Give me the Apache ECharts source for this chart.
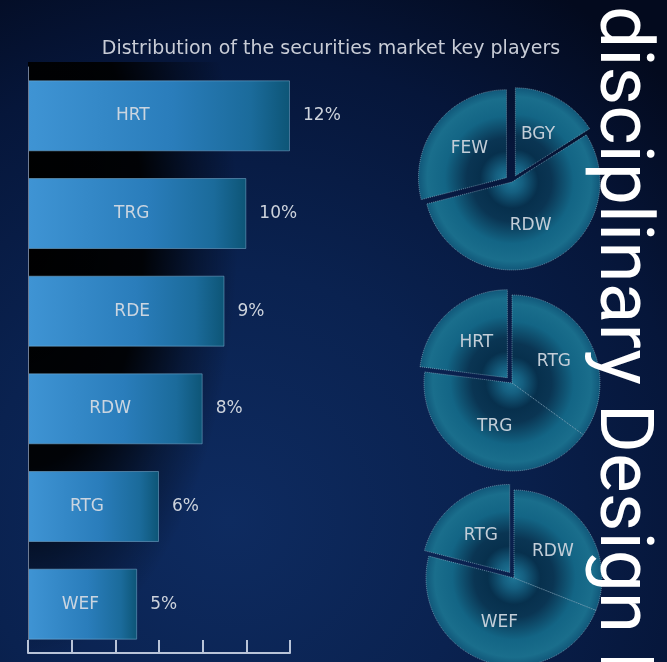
<!DOCTYPE html>
<html>
<head>
<meta charset="utf-8">
<title>Distribution of the securities market key players</title>
<script src="https://cdn.jsdelivr.net/npm/echarts@6/dist/echarts.min.js"></script>
<style>
  html, body { margin: 0; padding: 0; background: #050f26; }
  #chart { width: 667px; height: 662px; }
</style>
</head>
<body>
<div id="chart"></div>
<script>
// Market share of the key players (horizontal bars)
const categories = ['HRT', 'TRG', 'RDE', 'RDW', 'RTG', 'WEF'];
const shares = [12, 10, 9, 8, 6, 5];
const shareAxisMax = 12;
const shareAxisStep = 2;

// Segment splits of the three pies (clockwise from 12 o'clock)
const pieTopNames = ['BGY', 'RDW', 'FEW'];
const pieTopValues = [16, 55, 29];
const pieTopPulled = ['BGY', 'FEW'];

const pieMidNames = ['RTG', 'TRG', 'HRT'];
const pieMidValues = [35, 42, 23];
const pieMidPulled = ['HRT'];

const pieLowNames = ['RDW', 'WEF', 'RTG'];
const pieLowValues = [31, 48, 21];
const pieLowPulled = ['RTG'];

const titleText = 'Distribution of the securities market key players';
const sideText = 'disciplinary Design Method';

// Layout: where each player name sits along its bar (fraction of bar length)
const nameAnchor = [0.40, 0.475, 0.53, 0.47, 0.45, 0.48];

const labelFont = '"DejaVu Sans", sans-serif';
const PIE_R = 88;

function pieGlow(cx, cy) {
  return {
    type: 'radial', x: cx, y: cy, r: PIE_R, global: true,
    colorStops: [
      { offset: 0, color: '#1e7596' },
      { offset: 0.12, color: '#155f80' },
      { offset: 0.3, color: '#07304d' },
      { offset: 0.45, color: '#0a3553' },
      { offset: 0.7, color: '#136585' },
      { offset: 0.9, color: '#1a6e8c' },
      { offset: 1, color: '#11587a' }
    ]
  };
}

function pieSeries(names, values, pulled, cx, cy) {
  return {
    type: 'pie',
    center: [cx, cy],
    radius: [0, PIE_R],
    startAngle: 90,
    clockwise: true,
    selectedMode: 'multiple',
    selectedOffset: 7,
    animation: false,
    silent: true,
    emphasis: { disabled: true },
    labelLine: { show: false },
    label: {
      show: true,
      position: 'inside',
      formatter: '{b}',
      color: '#c3ced8',
      fontSize: 17,
      fontFamily: labelFont
    },
    itemStyle: {
      color: pieGlow(cx, cy),
      borderColor: 'rgba(165,200,215,0.55)',
      borderWidth: 1,
      borderType: 'dotted'
    },
    data: names.map((n, i) => ({
      name: n,
      value: values[i],
      selected: pulled.indexOf(n) >= 0
    }))
  };
}

const barFill = {
  type: 'linear', x: 0, y: 0, x2: 1, y2: 0,
  colorStops: [
    { offset: 0, color: '#3f94d4' },
    { offset: 0.55, color: '#2a7dbb' },
    { offset: 0.85, color: '#1b6b9b' },
    { offset: 1, color: '#0d5576' }
  ]
};

const chart = echarts.init(document.getElementById('chart'), null, { renderer: 'canvas' });

chart.setOption({
  animation: false,
  backgroundColor: '#050f26',
  title: {
    text: titleText,
    left: 326,
    top: 44,
    textAlign: 'center',
    textVerticalAlign: 'middle',
    textStyle: {
      color: '#c8ccd6',
      fontSize: 19,
      fontWeight: 'normal',
      fontFamily: labelFont
    }
  },
  graphic: [
    {
      // page backdrop
      type: 'rect',
      z: 0,
      silent: true,
      shape: { x: 0, y: 0, width: 667, height: 662 },
      style: {
        fill: {
          type: 'radial', x: 230, y: 520, r: 620, global: true,
          colorStops: [
            { offset: 0, color: '#0e2b60' },
            { offset: 0.4, color: '#0a2250' },
            { offset: 0.75, color: '#06163a' },
            { offset: 1, color: '#030a1e' }
          ]
        }
      }
    },
    {
      // dark shade behind the bars, next to the value axis
      type: 'rect',
      z: 1,
      silent: true,
      x: 28,
      y: -200,
      scaleX: 210 / 430,
      shape: { x: 0, y: 262, width: 430, height: 600 },
      style: {
        fill: {
          type: 'radial', x: 0, y: 430, r: 430, global: true,
          colorStops: [
            { offset: 0, color: 'rgba(0,0,0,1)' },
            { offset: 0.55, color: 'rgba(0,0,0,0.92)' },
            { offset: 0.8, color: 'rgba(0,0,0,0.35)' },
            { offset: 1, color: 'rgba(0,0,0,0)' }
          ]
        }
      }
    },
    {
      type: 'text',
      z: 100,
      silent: true,
      x: 620,
      y: 6,
      rotation: -Math.PI / 2,
      style: {
        text: sideText,
        fill: '#ffffff',
        fontSize: 75,
        fontFamily: 'Roboto, sans-serif',
        fontWeight: 'normal',
        align: 'left',
        verticalAlign: 'middle'
      }
    }
  ],
  grid: { left: 28, right: 377, top: 67, bottom: 9, containLabel: false },
  xAxis: {
    type: 'value',
    min: 0,
    max: shareAxisMax,
    interval: shareAxisStep,
    z: 10,
    axisLine: { show: true, lineStyle: { color: '#b9c4d8', width: 2 } },
    axisTick: { show: true, inside: true, length: 13, lineStyle: { color: '#b9c4d8', width: 2 } },
    axisLabel: { show: false },
    splitLine: { show: false }
  },
  yAxis: {
    type: 'category',
    inverse: true,
    data: categories,
    z: 10,
    axisLine: { show: true, lineStyle: { color: '#6e7c94', width: 1 } },
    axisTick: { show: false },
    axisLabel: { show: false },
    splitLine: { show: false }
  },
  series: [
    {
      type: 'bar',
      data: shares,
      barWidth: 71,
      silent: true,
      z: 3,
      itemStyle: {
        color: barFill,
        borderColor: 'rgba(140,190,225,0.45)',
        borderWidth: 1
      },
      label: {
        show: true,
        position: 'right',
        distance: 13,
        formatter: '{c}%',
        color: '#cdd3dc',
        fontSize: 17,
        fontFamily: labelFont
      }
    },
    {
      // player names written on the bars
      type: 'bar',
      barGap: '-100%',
      barWidth: 71,
      silent: true,
      z: 4,
      itemStyle: { color: 'rgba(0,0,0,0)' },
      data: shares.map((v, i) => ({
        value: v,
        label: { position: [(nameAnchor[i] * 100) + '%', '50%'] }
      })),
      label: {
        show: true,
        align: 'center',
        verticalAlign: 'middle',
        formatter: (p) => categories[p.dataIndex],
        color: '#cbd5e0',
        fontSize: 17,
        fontFamily: labelFont
      }
    },
    pieSeries(pieTopNames, pieTopValues, pieTopPulled, 512, 182),
    pieSeries(pieMidNames, pieMidValues, pieMidPulled, 512, 383),
    pieSeries(pieLowNames, pieLowValues, pieLowPulled, 514, 578)
  ]
});
</script>
</body>
</html>
